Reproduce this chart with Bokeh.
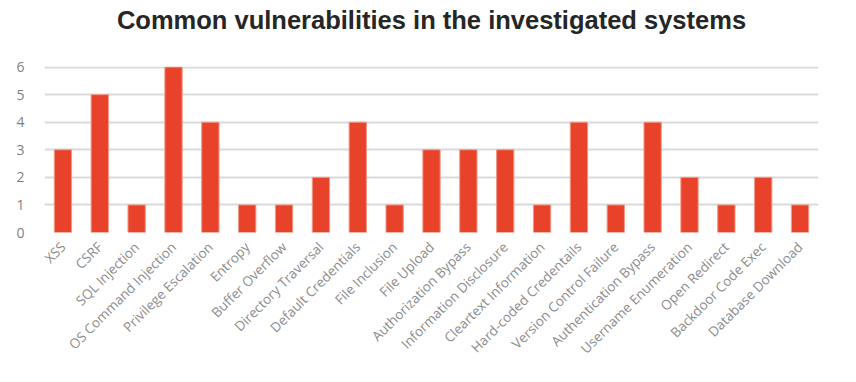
from bokeh.plotting import figure
from bokeh.models import Title
from bokeh.embed import file_html
from bokeh.resources import INLINE
from math import pi

categories = ["XSS", "CSRF", "SQL Injection", "OS Command Injection", "Privilege Escalation",
              "Entropy", "Buffer Overflow", "Directory Traversal", "Default Credentials",
              "File Inclusion", "File Upload", "Authorization Bypass", "Information Disclosure",
              "Cleartext Information", "Hard-coded Credentails", "Version Control Failure",
              "Authentication Bypass", "Username Enumeration", "Open Redirect",
              "Backdoor Code Exec", "Database Download"]
counts = [3, 5, 1, 6, 4, 1, 1, 2, 4, 1, 3, 3, 3, 1, 4, 1, 4, 2, 1, 2, 1]
y_ticks = [0, 1, 2, 3, 4, 5, 6]

p = figure(x_range=categories, y_range=(0, 6.02), width=840, height=366,
           output_backend="svg", toolbar_location=None,
           min_border_left=44, min_border_right=22, min_border_top=66, min_border_bottom=134)

# blank spacer between title and plot area (first added sits closest to the frame)
p.add_layout(Title(text=" ", text_color="#FFFFFF", text_font_size="20px", standoff=9), "above")
p.add_layout(Title(text="Common vulnerabilities in the investigated systems", align="center",
                   text_font="Liberation Sans", text_font_style="bold", text_font_size="25.5px",
                   text_color="#262626", standoff=0), "above")

p.vbar(x=categories, top=counts, width=0.47, fill_color="#E8432A",
       line_color="#F29A88", line_width=1)

p.outline_line_color = None
p.xgrid.grid_line_color = None
p.ygrid.grid_line_color = "#D9D9D9"
p.ygrid.grid_line_width = 2
p.yaxis.ticker = y_ticks
p.yaxis.axis_line_color = None
p.yaxis.major_tick_line_color = None
p.yaxis.minor_tick_line_color = None
p.yaxis.major_label_text_font = "Open Sans"
p.yaxis.major_label_text_font_size = "14px"
p.yaxis.major_label_text_color = "#7F7F7F"
p.yaxis.major_label_standoff = 14

p.xaxis.axis_line_color = None
p.xaxis.major_tick_line_color = None
p.xaxis.major_label_orientation = pi / 4
p.xaxis.major_label_text_font = "Open Sans"
p.xaxis.major_label_text_font_size = "13.5px"
p.xaxis.major_label_text_color = "#8C8C8C"
p.xaxis.major_label_standoff = 6
p.x_range.range_padding = 0

open("out.html", "w").write(file_html(p, INLINE))
